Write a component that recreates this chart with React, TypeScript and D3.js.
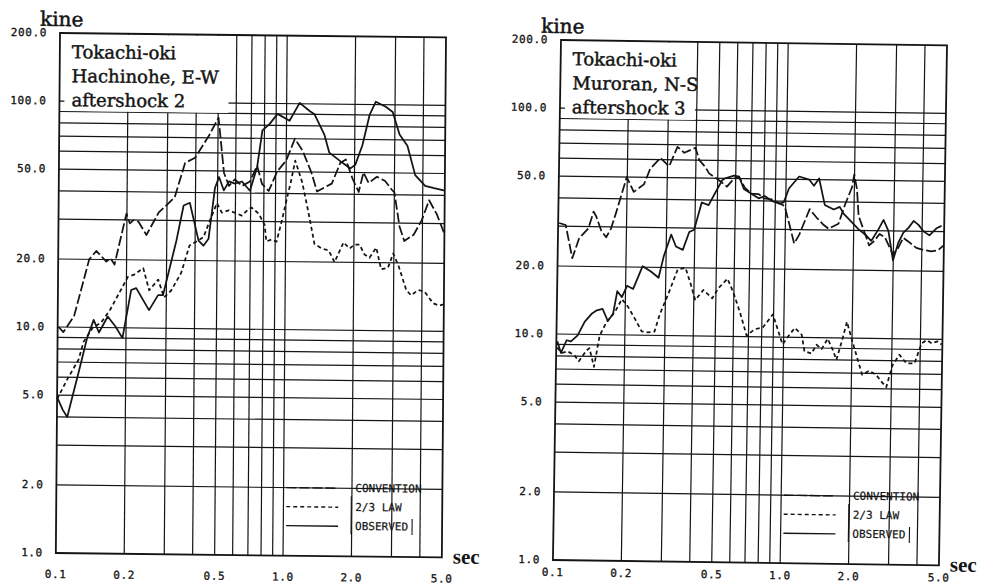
import React from 'react';
import * as d3 from 'd3';

type Pt = [number, number];

// axis ticks
const xTickValues = [0.1, 0.2, 0.5, 1, 2, 5];
const xTickLabels = ['0.1', '0.2', '0.5', '1.0', '2.0', '5.0'];
const yTickValues = [200, 100, 50, 20, 10, 5, 2, 1];
const yTickLabels = ['200.0', '100.0', '50.0', '20.0', '10.0', '5.0', '2.0', '1.0'];
const xGridValues = [0.2, 0.3, 0.4, 0.5, 0.6, 0.7, 0.8, 0.9, 1, 2, 3, 4];
const yGridValues = [2, 3, 4, 5, 6, 7, 8, 9, 10, 20, 30, 40, 50, 60, 70, 80, 90, 100];

const legendLabels = ['CONVENTION', '2/3 LAW', 'OBSERVED'];
const titleHachinohe = ['Tokachi-oki', 'Hachinohe, E-W', 'aftershock 2'];
const titleMuroran = ['Tokachi-oki', 'Muroran, N-S', 'aftershock 3'];

// Hachinohe E-W, aftershock 2  [period sec, velocity kine]
const conventionHachinohe: Pt[] = [
  [0.101, 10], [0.106, 9.5], [0.118, 11.2], [0.137, 20], [0.147, 21.8], [0.163, 19.6], [0.17, 20.3],
  [0.177, 19], [0.199, 32], [0.206, 29], [0.214, 30], [0.225, 29.5], [0.244, 25.8], [0.276, 32.5],
  [0.324, 38], [0.359, 54], [0.397, 57], [0.458, 72], [0.502, 86], [0.533, 49], [0.561, 43],
  [0.596, 46], [0.64, 43], [0.694, 45], [0.745, 53], [0.784, 44], [0.84, 41], [0.913, 50], [1.0, 56],
  [1.09, 70], [1.18, 62], [1.29, 50], [1.37, 41], [1.49, 43], [1.59, 44.5], [1.73, 55], [1.83, 57],
  [1.96, 47], [2.09, 41], [2.19, 50], [2.31, 45], [2.51, 48], [2.73, 46], [2.93, 42], [3.0, 41],
  [3.17, 29], [3.33, 25], [3.66, 26.7], [3.97, 31], [4.27, 38], [4.62, 33], [5.0, 27],
];
const lawHachinohe: Pt[] = [
  [0.1, 4.8], [0.111, 5.9], [0.124, 7.2], [0.13, 8.6], [0.143, 10], [0.155, 10.5], [0.17, 12],
  [0.203, 16.8], [0.216, 17.2], [0.237, 18.4], [0.252, 14.7], [0.276, 16.4], [0.293, 13.7],
  [0.315, 14.7], [0.348, 17.6], [0.378, 23.3], [0.397, 24], [0.435, 25.4], [0.463, 30], [0.497, 36],
  [0.523, 32.7], [0.561, 33.5], [0.596, 32.7], [0.64, 31.8], [0.687, 34], [0.708, 34.5], [0.76, 32.5],
  [0.808, 29], [0.823, 24.5], [0.866, 25], [0.913, 24.5], [0.959, 30], [1.01, 38], [1.05, 45],
  [1.096, 56], [1.178, 45], [1.263, 32.5], [1.341, 24], [1.441, 23], [1.55, 22.5], [1.645, 20],
  [1.801, 24.5], [1.914, 23], [2.014, 24], [2.116, 24], [2.228, 21.7], [2.344, 21], [2.51, 23.3],
  [2.64, 18.7], [2.83, 19], [2.98, 22], [3.15, 19.4], [3.41, 15.2], [3.58, 14.4], [3.85, 15.2],
  [4.1, 15], [4.49, 13.3], [4.77, 13], [5.0, 13.2],
];
const observedHachinohe: Pt[] = [
  [0.1, 4.9], [0.106, 4.3], [0.111, 4.0], [0.125, 6.5], [0.135, 9], [0.144, 10.8], [0.152, 9.5],
  [0.166, 11.2], [0.18, 10.1], [0.193, 9], [0.21, 14.7], [0.221, 15], [0.252, 12], [0.276, 14],
  [0.29, 14], [0.331, 24.5], [0.355, 35], [0.378, 36], [0.414, 24.5], [0.435, 23.3], [0.458, 25],
  [0.487, 42], [0.507, 47], [0.533, 41], [0.561, 45], [0.596, 44], [0.64, 45], [0.694, 41],
  [0.745, 52], [0.784, 76], [0.842, 81], [0.913, 90], [1.031, 84], [1.141, 101], [1.263, 93],
  [1.328, 90], [1.471, 73], [1.547, 61], [1.73, 56], [1.82, 54], [1.914, 52], [2.014, 54],
  [2.162, 66], [2.32, 90], [2.467, 103], [2.73, 98], [2.931, 93], [3.148, 74], [3.412, 66],
  [3.701, 49], [4.096, 44], [4.487, 43], [5.0, 42],
];

// Muroran N-S, aftershock 3
const conventionMuroran: Pt[] = [
  [0.101, 31], [0.108, 30.4], [0.116, 21.7], [0.124, 26.6], [0.136, 29.5], [0.143, 35], [0.147, 33.3],
  [0.155, 28.8], [0.163, 27], [0.171, 29.5], [0.18, 35], [0.199, 50], [0.214, 43], [0.237, 46.5],
  [0.252, 54.5], [0.279, 61], [0.305, 56], [0.331, 68.5], [0.355, 64.5], [0.397, 68], [0.414, 60],
  [0.44, 56], [0.458, 52.5], [0.507, 49], [0.55, 46], [0.59, 50], [0.62, 51], [0.66, 45.5],
  [0.708, 43], [0.76, 42.8], [0.8, 41], [0.868, 40.6], [0.941, 39], [0.99, 38], [1.041, 31.6],
  [1.096, 26], [1.153, 28.5], [1.2, 31.6], [1.276, 37], [1.37, 34], [1.471, 31.6], [1.547, 30.4],
  [1.712, 32], [1.82, 38.7], [1.953, 46.5], [1.994, 53], [2.055, 45.5], [2.097, 34.8], [2.206, 30.4],
  [2.344, 25.8], [2.467, 27], [2.6, 29], [2.75, 28], [2.99, 23.5], [3.15, 25.3], [3.31, 28],
  [3.48, 27], [3.78, 25.3], [4.06, 24.8], [4.4, 24.5], [4.72, 24.8], [4.97, 26],
];
const lawMuroran: Pt[] = [
  [0.101, 8.7], [0.106, 8.25], [0.112, 8.4], [0.12, 8.1], [0.126, 7.6], [0.136, 8.5], [0.14, 8.7],
  [0.147, 7.2], [0.155, 9.9], [0.166, 11.4], [0.18, 12.6], [0.193, 14.4], [0.206, 13.3], [0.221, 11.8],
  [0.237, 10.4], [0.252, 10.3], [0.27, 10.4], [0.284, 12.4], [0.308, 15.2], [0.338, 19.6], [0.366, 20],
  [0.385, 17.2], [0.406, 14.4], [0.44, 16], [0.482, 14.7], [0.512, 16.3], [0.561, 18], [0.596, 15.7],
  [0.64, 12.8], [0.687, 10.1], [0.745, 10.8], [0.808, 11], [0.894, 12.6], [0.941, 10.8], [0.99, 9.3],
  [1.063, 10.3], [1.118, 11], [1.2, 10.3], [1.237, 8.7], [1.328, 8.5], [1.398, 9.3], [1.471, 8.9],
  [1.563, 9.9], [1.645, 8.9], [1.712, 8], [1.801, 9.6], [1.895, 11.8], [1.994, 9.9], [2.097, 8.4],
  [2.228, 6.9], [2.392, 7.2], [2.569, 6.9], [2.73, 6.4], [2.85, 6.1], [3.021, 7.6], [3.243, 8.5],
  [3.483, 7.8], [3.777, 7.8], [4.055, 9.6], [4.266, 9.9], [4.487, 9.6], [4.769, 9.8], [4.966, 9.5],
];
const observedMuroran: Pt[] = [
  [0.101, 9.3], [0.105, 8.25], [0.111, 9.4], [0.116, 9.3], [0.124, 9.9], [0.133, 11.4], [0.143, 12.4],
  [0.15, 12.8], [0.159, 13], [0.168, 11.5], [0.177, 12.4], [0.184, 15.6], [0.193, 14.7], [0.203, 16.5],
  [0.216, 16], [0.237, 20.2], [0.257, 19.2], [0.279, 18], [0.293, 22.4], [0.315, 28], [0.331, 24.8],
  [0.355, 24], [0.378, 28.8], [0.397, 29.5], [0.427, 39], [0.458, 38], [0.487, 42.8], [0.523, 49],
  [0.539, 50], [0.59, 51.5], [0.621, 51], [0.653, 45], [0.708, 42.8], [0.76, 41], [0.808, 42],
  [0.868, 40], [0.932, 39], [0.98, 39.5], [1.031, 45.5], [1.141, 51.5], [1.263, 50], [1.328, 47],
  [1.398, 50.6], [1.486, 38.7], [1.628, 37], [1.73, 38], [1.8, 35.5], [1.953, 32.7], [2.097, 30.4],
  [2.274, 28.5], [2.392, 27], [2.569, 30.4], [2.702, 33.5], [2.843, 30], [2.991, 22.2], [3.148, 26.6],
  [3.31, 29.5], [3.483, 31], [3.664, 33.3], [3.854, 32], [4.055, 30], [4.309, 28.8], [4.627, 31],
  [4.866, 31.8],
];

const W = 386;
const H = 520;
const INK = '#141414';
const DASHES = ['10 3', '4 3', ''];
const monoFont = '"DejaVu Sans Mono", monospace';
const serifFont = '"DejaVu Serif", serif';

const xScale = d3.scaleLog().domain([0.1, 5]).range([0, W]);
const yScale = d3.scaleLog().domain([1, 200]).range([H, 0]);
const lineGen = d3.line<Pt>().x((d) => xScale(d[0])).y((d) => yScale(d[1]));

interface PanelProps {
  ox: number; oy: number; b: number; c: number;
  title: string[]; boxW: number; xLabelDy: number;
  series: Pt[][];
}

function Panel({ ox, oy, b, c, title, boxW, xLabelDy, series }: PanelProps) {
  const boxH = 77;
  const legY0 = yScale(2);
  return (
    <g transform={`matrix(1,${b},${c},1,${ox},${oy})`}>
      {/* grid */}
      {yGridValues.map((v) => (
        <line key={'h' + v} x1={0} x2={W} y1={yScale(v)} y2={yScale(v)} stroke={INK} strokeWidth={1.2} />
      ))}
      {xGridValues.map((v) => (
        <line key={'v' + v} x1={xScale(v)} x2={xScale(v)} y1={0} y2={H} stroke={INK} strokeWidth={1.2} />
      ))}
      {/* title box */}
      <rect x={1} y={1} width={boxW} height={boxH} fill="#fff" />
      <line x1={0} x2={5} y1={yScale(100)} y2={yScale(100)} stroke={INK} strokeWidth={1.2} />
      {title.map((t, i) => (
        <text key={t} x={12} y={25 + i * 24} fontFamily={serifFont} fontSize={18} fill={INK}
          stroke={INK} strokeWidth={0.45}>{t}</text>
      ))}
      {/* curves */}
      {series.map((s, i) => (
        <path key={'s' + i} d={lineGen(s) || ''} fill="none" stroke={INK} strokeWidth={1.75}
          strokeDasharray={DASHES[i] || undefined} strokeLinejoin="round" />
      ))}
      {/* legend */}
      {legendLabels.map((l, i) => (
        <g key={l}>
          <line x1={230} x2={282} y1={legY0 + i * 19} y2={legY0 + i * 19} stroke={INK} strokeWidth={1.4}
            strokeDasharray={DASHES[i] || undefined} />
          <text x={299} y={legY0 + i * 19} dominantBaseline="central" fontFamily={monoFont} fontSize={11}
            fill={INK} stroke={INK} strokeWidth={0.2}>{l}</text>
        </g>
      ))}
      <line x1={295} x2={295} y1={legY0 + 8} y2={legY0 + 46} stroke={INK} strokeWidth={1.1} />
      <line x1={356} x2={356} y1={legY0 + 30} y2={legY0 + 46} stroke={INK} strokeWidth={1.1} />
      {/* frame */}
      <rect x={0} y={0} width={W} height={H} fill="none" stroke={INK} strokeWidth={1.8} />
      {/* tick labels */}
      {yTickValues.map((v, i) => (
        <text key={'yl' + v} x={-13} y={yScale(v)} textAnchor="end" dominantBaseline="central"
          fontFamily={monoFont} fontSize={11} letterSpacing={0.6} fill={INK} stroke={INK}
          strokeWidth={0.3}>{yTickLabels[i]}</text>
      ))}
      {xTickValues.map((v, i) => (
        <text key={'xl' + v} x={xScale(v)} y={H + xLabelDy} textAnchor="middle"
          fontFamily={monoFont} fontSize={11} letterSpacing={0.6} fill={INK} stroke={INK}
          strokeWidth={0.3}>{xTickLabels[i]}</text>
      ))}
      <text x={-20} y={-7} fontFamily={serifFont} fontSize={20} fill={INK} stroke={INK} strokeWidth={0.5}>kine</text>
      <text x={W + 11} y={H + 6} fontFamily='"Liberation Serif", serif' fontWeight="bold" fontSize={21} fill={INK}>sec</text>
    </g>
  );
}

export default function App() {
  return (
    <svg width={983} height={585} viewBox="0 0 983 585"
      style={{ position: 'absolute', left: 0, top: 0, background: '#fff', display: 'block' }}>
      <rect x={0} y={0} width={983} height={585} fill="#fff" />
      <Panel ox={60} oy={33} b={0.0115} c={-0.008} title={titleHachinohe} boxW={168} xLabelDy={25}
        series={[conventionHachinohe, lawHachinohe, observedHachinohe]} />
      <Panel ox={561} oy={40} b={0.014} c={-0.0155} title={titleMuroran} boxW={134} xLabelDy={16}
        series={[conventionMuroran, lawMuroran, observedMuroran]} />
    </svg>
  );
}
